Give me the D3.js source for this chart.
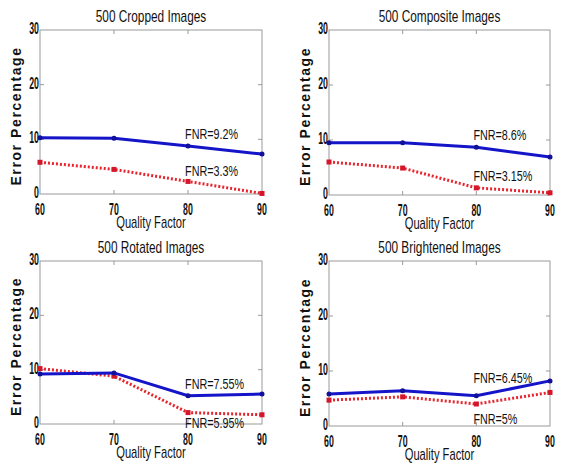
<!DOCTYPE html>
<html>
<head>
<meta charset="utf-8">
<script src="https://cdn.jsdelivr.net/npm/d3@7"></script>
<style>
  body { margin: 0; background: #fff; }
  text { fill: #111; font-family: "Liberation Sans", Arial, sans-serif; }
  .tick-lbl { font-weight: bold; font-size: 16px; }
  .title { font-size: 16px; }
  .xlab { font-size: 16px; }
  .ylab { font-weight: bold; font-size: 14px; letter-spacing: 1.6px; }
  .note { font-size: 15px; }
</style>
</head>
<body>
<div id="chart"></div>
<script>
var width = 563, height = 465;

// quality factor on x
var qualityFactor = [60, 70, 80, 90];
var xTicks = [60, 70, 80, 90];
var yTicks = [0, 10, 20, 30];

// panel titles
var titles = ["500 Cropped Images", "500 Composite Images", "500 Rotated Images", "500 Brightened Images"];

// error percentages (blue solid / red dotted)
var blueCropped = [10.3, 10.2, 8.8, 7.3];
var redCropped = [5.8, 4.5, 2.3, 0.1];
var blueComposite = [9.5, 9.5, 8.7, 6.9];
var redComposite = [6.0, 4.9, 1.3, 0.4];
var blueRotated = [9.2, 9.4, 5.2, 5.5];
var redRotated = [10.2, 8.8, 2.1, 1.7];
var blueBright = [5.8, 6.4, 5.5, 8.2];
var redBright = [4.7, 5.3, 4.0, 6.1];

// FNR notes: text and the value they sit at
var blueNotes = ["FNR=9.2%", "FNR=8.6%", "FNR=7.55%", "FNR=6.45%"];
var blueNoteAt = [10.1, 10.0, 6.4, 7.8];
var redNotes = ["FNR=3.3%", "FNR=3.15%", "FNR=5.95%", "FNR=5%"];
var redNoteAt = [3.3, 2.6, -0.7, 0.3];

var blueSeries = [blueCropped, blueComposite, blueRotated, blueBright];
var redSeries = [redCropped, redComposite, redRotated, redBright];

// panel boxes in pixels
var boxes = [
  { left: 40, top: 30, w: 222, h: 164 },
  { left: 329, top: 30, w: 221, h: 165 },
  { left: 40, top: 261, w: 222, h: 163 },
  { left: 329, top: 261, w: 221, h: 165 }
];

var svg = d3.select("#chart")
  .append("svg")
  .attr("width", width)
  .attr("height", height);

// condensed text: no narrow font installed, so squeeze horizontally
function narrow(sel, px, py, sx) {
  return sel.attr("transform", "translate(" + px + "," + py + ") scale(" + sx + ",1)");
}

titles.forEach(function (title, i) {
  var b = boxes[i];
  var g = svg.append("g")
    .attr("transform", "translate(" + b.left + "," + b.top + ")");

  var x = d3.scaleLinear().domain([60, 90]).range([0, b.w]);
  var y = d3.scaleLinear().domain([0, 30]).range([b.h, 0]);

  // frame
  g.append("rect")
    .attr("width", b.w)
    .attr("height", b.h)
    .attr("fill", "none")
    .attr("stroke", "#9a9a9a")
    .attr("stroke-width", 1);

  // inner ticks on all four sides
  var tg = g.append("g").attr("stroke", "#9a9a9a");
  xTicks.slice(1, -1).forEach(function (t) {
    tg.append("line").attr("x1", x(t)).attr("x2", x(t)).attr("y1", b.h).attr("y2", b.h - 4);
    tg.append("line").attr("x1", x(t)).attr("x2", x(t)).attr("y1", 0).attr("y2", 4);
  });
  yTicks.slice(1, -1).forEach(function (t) {
    tg.append("line").attr("x1", 0).attr("x2", 4).attr("y1", y(t)).attr("y2", y(t));
    tg.append("line").attr("x1", b.w).attr("x2", b.w - 4).attr("y1", y(t)).attr("y2", y(t));
  });

  // y label first so tick labels sit over it
  g.append("text")
    .attr("class", "ylab")
    .attr("transform", "translate(-19," + (b.h / 2 + 4) + ") rotate(-90)")
    .attr("text-anchor", "middle")
    .text("Error Percentage");

  // tick labels
  g.selectAll(".xt")
    .data(xTicks)
    .enter()
    .append("text")
    .attr("class", "tick-lbl")
    .attr("text-anchor", "middle")
    .each(function (d) { narrow(d3.select(this), x(d), b.h + 21, 0.55); })
    .text(d => d);

  g.selectAll(".yt")
    .data(yTicks)
    .enter()
    .append("text")
    .attr("class", "tick-lbl")
    .attr("text-anchor", "end")
    .each(function (d) { narrow(d3.select(this), -1, y(d) + 4, 0.55); })
    .text(d => d);

  // title and x label
  narrow(g.append("text"), b.w / 2, -8, 0.74)
    .attr("class", "title")
    .attr("text-anchor", "middle")
    .text(title);

  narrow(g.append("text"), b.w / 2, b.h + 34, 0.7)
    .attr("class", "xlab")
    .attr("text-anchor", "middle")
    .text("Quality Factor");

  var line = d3.line()
    .x((d, k) => x(qualityFactor[k]))
    .y(d => y(d));

  // red dotted
  g.append("path")
    .datum(redSeries[i])
    .attr("d", line)
    .attr("fill", "none")
    .attr("stroke", "#e8242c")
    .attr("stroke-width", 3)
    .attr("stroke-dasharray", "2,2");
  g.selectAll(".rm")
    .data(redSeries[i])
    .enter()
    .append("rect")
    .attr("x", (d, k) => x(qualityFactor[k]) - 2.5)
    .attr("y", d => y(d) - 2.5)
    .attr("width", 5)
    .attr("height", 5)
    .attr("fill", "#d4162a");

  // blue solid
  g.append("path")
    .datum(blueSeries[i])
    .attr("d", line)
    .attr("fill", "none")
    .attr("stroke", "#1414c8")
    .attr("stroke-width", 3);
  g.selectAll(".bm")
    .data(blueSeries[i])
    .enter()
    .append("circle")
    .attr("cx", (d, k) => x(qualityFactor[k]))
    .attr("cy", d => y(d))
    .attr("r", 2.5)
    .attr("fill", "#10109a");

  // notes
  narrow(g.append("text"), x(79.6), y(blueNoteAt[i]), 0.72)
    .attr("class", "note")
    .text(blueNotes[i]);
  narrow(g.append("text"), x(79.6), y(redNoteAt[i]), 0.72)
    .attr("class", "note")
    .text(redNotes[i]);
});
</script>
</body>
</html>
